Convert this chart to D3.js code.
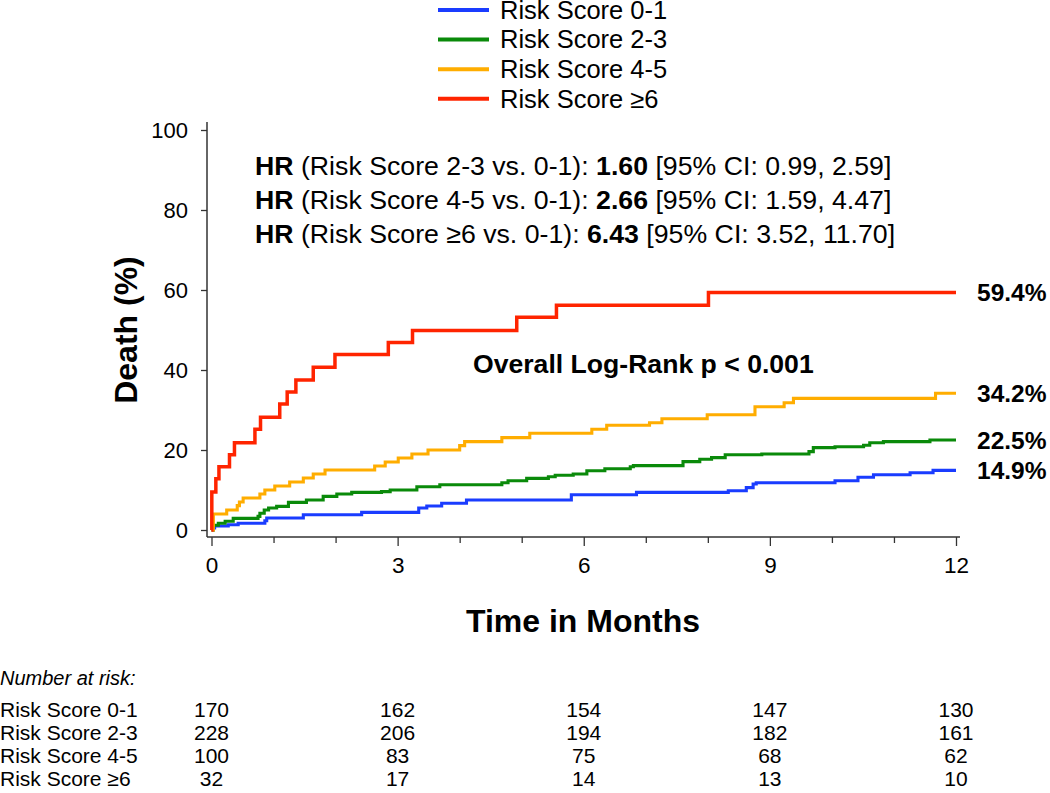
<!DOCTYPE html>
<html>
<head>
<meta charset="utf-8">
<script src="https://cdn.jsdelivr.net/npm/d3@7"></script>
<style>
  html, body { margin: 0; padding: 0; background: #fff; }
  svg { display: block; font-family: "Liberation Sans", Arial, sans-serif; }
</style>
</head>
<body>
<svg id="chart" width="1050" height="793"></svg>
<script>
// ---------------- DATA ----------------
const groups = ["Risk Score 0-1", "Risk Score 2-3", "Risk Score 4-5", "Risk Score \u22656"];
const colors = ["#1a3cff", "#0a8a0a", "#ffad00", "#ff2400"];

// Kaplan-Meier cumulative death (%) step curves: event times (months) and cumulative %
const times01 = [0, 0.02, 0.05, 0.27, 0.43, 0.86, 0.89, 1.48, 2.42, 3.34, 3.47, 3.71, 4.11, 5.80, 6.85, 8.33, 8.62, 8.73, 8.78, 10.05, 10.42, 10.67, 11.26, 11.63, 12];
const death01 = [0, 0.5, 1.0, 1.3, 1.7, 2.3, 3.0, 3.8, 4.4, 5.5, 6.0, 6.7, 7.5, 8.8, 9.4, 9.8, 10.6, 11.5, 11.8, 12.3, 13.2, 13.8, 14.3, 14.9, 14.9];

const times23 = [0, 0.03, 0.11, 0.22, 0.35, 0.75, 0.78, 0.85, 0.92, 1.05, 1.24, 1.53, 1.80, 2.02, 2.26, 2.74, 2.88, 3.31, 3.68, 4.68, 4.78, 5.08, 5.43, 5.54, 5.83, 6.05, 6.34, 6.75, 6.80, 7.60, 7.87, 8.06, 8.28, 8.87, 9.63, 9.70, 10.05, 10.51, 10.61, 10.83, 11.58, 12];
const death23 = [0, 1.2, 1.7, 2.2, 2.9, 3.4, 4.2, 5.0, 5.5, 5.9, 6.9, 7.5, 8.4, 9.0, 9.4, 9.6, 10.0, 10.8, 11.3, 11.8, 12.3, 12.9, 13.3, 13.7, 14.0, 14.8, 15.3, 15.8, 16.1, 17.1, 17.7, 18.1, 18.8, 19.0, 19.6, 20.6, 20.8, 21.2, 21.8, 22.1, 22.5, 22.5];

const times45 = [0, 0.03, 0.245, 0.415, 0.45, 0.51, 0.78, 0.86, 1.02, 1.26, 1.48, 1.64, 1.83, 2.63, 2.80, 3.01, 3.23, 3.49, 4.00, 4.08, 4.68, 5.13, 6.13, 6.37, 7.06, 7.26, 7.99, 8.76, 9.23, 9.38, 11.67, 12];
const death45 = [0, 4.0, 5.0, 6.1, 7.0, 8.0, 9.0, 10.0, 11.0, 12.0, 13.0, 14.0, 15.0, 16.0, 17.0, 18.0, 19.0, 20.0, 21.1, 22.1, 23.1, 24.2, 25.2, 26.2, 26.8, 27.8, 28.8, 30.8, 31.8, 32.9, 34.2, 34.2];

const times6 = [0, 0.005, 0.07, 0.12, 0.29, 0.37, 0.70, 0.79, 1.10, 1.22, 1.36, 1.64, 1.99, 2.85, 3.24, 4.92, 5.56, 8.01, 12];
const death6 = [0, 9.5, 12.8, 15.8, 18.8, 21.8, 25.2, 28.2, 31.5, 34.5, 37.5, 40.7, 43.9, 46.9, 49.9, 53.2, 56.2, 59.4, 59.4];

const endLabels = ["14.9%", "22.5%", "34.2%", "59.4%"];
const endValues = [14.9, 22.5, 34.2, 59.4];

const yTicks = [0, 20, 40, 60, 80, 100];
const xTicks = [0, 1, 2, 3, 4, 5, 6, 7, 8, 9, 10, 11, 12];
const xLabeled = [0, 3, 6, 9, 12];

const riskTimes = [0, 3, 6, 9, 12];
const atRisk01 = [170, 162, 154, 147, 130];
const atRisk23 = [228, 206, 194, 182, 161];
const atRisk45 = [100, 83, 75, 68, 62];
const atRisk6 = [32, 17, 14, 13, 10];

const hrLines = [
  {cmp: "2-3", hr: "1.60", ci: "[95% CI: 0.99, 2.59]"},
  {cmp: "4-5", hr: "2.66", ci: "[95% CI: 1.59, 4.47]"},
  {cmp: "\u22656", hr: "6.43", ci: "[95% CI: 3.52, 11.70]"}
];

// ---------------- CHART ----------------
const svg = d3.select("#chart");
const x = d3.scaleLinear().domain([0, 12]).range([211.5, 956]);
const y = d3.scaleLinear().domain([0, 100]).range([530, 130]);

const axisX0 = 207, axisY0 = 537;

// Y axis
const gy = svg.append("g").attr("transform", `translate(${axisX0},0)`)
  .call(d3.axisLeft(y).tickValues(yTicks).tickSize(6).tickPadding(13).tickFormat(d3.format("d")));
gy.select(".domain").remove();
gy.selectAll(".tick line").attr("stroke", "#333").attr("stroke-width", 1.3);
gy.selectAll(".tick text").attr("font-size", 22).attr("fill", "#000")
  .attr("font-family", "Liberation Sans, Arial, sans-serif");
svg.append("line").attr("x1", axisX0).attr("x2", axisX0).attr("y1", 122).attr("y2", axisY0)
  .attr("stroke", "#333").attr("stroke-width", 1.5);

// X axis
const gx = svg.append("g").attr("transform", `translate(0,${axisY0})`)
  .call(d3.axisBottom(x).tickValues(xTicks).tickSize(6).tickPadding(14)
    .tickFormat(d => xLabeled.includes(d) ? d : ""));
gx.select(".domain").remove();
gx.selectAll(".tick line").attr("stroke", "#333").attr("stroke-width", 1.3)
  .attr("y2", d => xLabeled.includes(d) ? 9 : 6);
gx.selectAll(".tick text").attr("font-size", 22.5).attr("fill", "#000")
  .attr("font-family", "Liberation Sans, Arial, sans-serif");
svg.append("line").attr("x1", axisX0).attr("x2", 960).attr("y1", axisY0).attr("y2", axisY0)
  .attr("stroke", "#333").attr("stroke-width", 1.5);

// Axis titles
svg.append("text").attr("transform", "translate(137,330) rotate(-90)")
  .attr("text-anchor", "middle").attr("font-size", 32).attr("font-weight", "bold")
  .text("Death (%)");
svg.append("text").attr("x", 583).attr("y", 632)
  .attr("text-anchor", "middle").attr("font-size", 32).attr("font-weight", "bold")
  .text("Time in Months");

// Curves
const series = [
  {t: times01, v: death01},
  {t: times23, v: death23},
  {t: times45, v: death45},
  {t: times6, v: death6}
];
const line = d3.line().x(d => x(d[0])).y(d => y(d[1])).curve(d3.curveStepAfter);
series.forEach((s, i) => {
  const pts = s.t.map((t, j) => [t, s.v[j]]);
  svg.append("path").attr("d", line(pts)).attr("fill", "none")
    .attr("stroke", colors[i]).attr("stroke-width", i === 3 ? 3.5 : 3.1);
});

// End labels
endLabels.forEach((lab, i) => {
  svg.append("text").attr("x", 977).attr("y", y(endValues[i]) + 9)
    .attr("font-size", 24.5).attr("font-weight", "bold").text(lab);
});

// Legend
const legend = svg.append("g");
groups.forEach((g, i) => {
  const yy = 10 + i * 29.6;
  legend.append("line").attr("x1", 438).attr("x2", 489).attr("y1", yy).attr("y2", yy)
    .attr("stroke", colors[i]).attr("stroke-width", 4);
  legend.append("text").attr("x", 500).attr("y", yy + 8.8).attr("font-size", 25.5).text(g);
});

// HR annotations
hrLines.forEach((h, i) => {
  const t = svg.append("text").attr("x", 255).attr("y", 175 + i * 34).attr("font-size", 26.7);
  t.append("tspan").attr("font-weight", "bold").text("HR");
  t.append("tspan").text(` (Risk Score ${h.cmp} vs. 0-1): `);
  t.append("tspan").attr("font-weight", "bold").text(h.hr);
  t.append("tspan").text(" " + h.ci);
});

svg.append("text").attr("x", 473).attr("y", 373).attr("font-size", 26.6).attr("font-weight", "bold")
  .text("Overall Log-Rank p < 0.001");

// Number at risk table
svg.append("text").attr("x", 0).attr("y", 685).attr("font-size", 20).attr("font-style", "italic")
  .text("Number at risk:");
const riskRows = [atRisk01, atRisk23, atRisk45, atRisk6];
riskRows.forEach((row, i) => {
  const yy = 717 + i * 23;
  svg.append("text").attr("x", 0).attr("y", yy).attr("font-size", 21).text(groups[i]);
  row.forEach((n, j) => {
    svg.append("text").attr("x", x(riskTimes[j])).attr("y", yy).attr("font-size", 21)
      .attr("text-anchor", "middle").text(n);
  });
});
</script>
</body>
</html>
